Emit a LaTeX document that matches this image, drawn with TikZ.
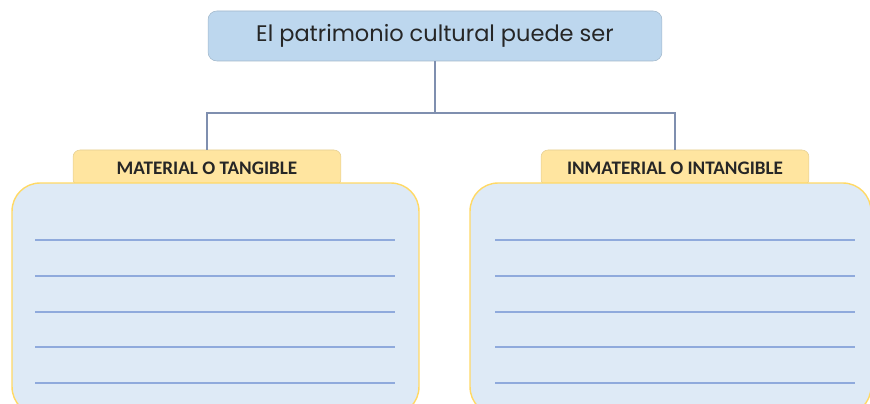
\documentclass[tikz,border=0pt]{standalone}
\usepackage{fontspec}
\setmainfont{Carlito}
\newfontfamily\titlefont{Poppins}
\usetikzlibrary{positioning}
\definecolor{titlebg}{HTML}{BDD7EE}
\definecolor{tabbg}{HTML}{FFE5A0}
\definecolor{boxbg}{HTML}{DEEAF6}
\definecolor{boxedge}{HTML}{FFD966}
\definecolor{rulec}{HTML}{8FAADC}
\definecolor{linkc}{HTML}{7F8FAF}
\definecolor{inkc}{HTML}{262626}
\tikzset{
  titlebox/.style={fill=titlebg, draw=titlebg!85!black, line width=0.3pt, rounded corners=5pt,
                   minimum width=9.08cm, minimum height=1cm, inner sep=0pt,
                   text=inkc, font=\titlefont\fontsize{12.8}{15}\selectfont},
  tabbox/.style={fill=tabbg, draw=tabbg!90!black, line width=0.3pt, rounded corners=4pt,
                 minimum width=5.36cm, minimum height=0.72cm, inner sep=0pt,
                 text=inkc, font=\bfseries\fontsize{10.9}{12}\selectfont},
  notebox/.style={fill=boxbg, draw=boxedge, line width=0.8pt, rounded corners=0.56cm,
                  minimum height=4.64cm, inner sep=0pt},
  link/.style={draw=linkc, line width=0.8pt},
  rule/.style={draw=rulec, line width=1pt}}
\begin{document}
\begin{tikzpicture}[x=0.02cm, y=-0.02cm]
  \useasboundingbox (0,0) rectangle (870,404);
  \clip (0,0) rectangle (870,404);
  \node[titlebox] (title) at (435,36) {El patrimonio cultural puede ser};
  % the two tabs sit under the boxes
  \node[tabbox] (matL) at (207,168) {MATERIAL O TANGIBLE};
  \node[tabbox] (matR) at (675,168) {INMATERIAL O INTANGIBLE};
  \node[notebox, minimum width=8.14cm] (boxL) at (215.5,299) {};
  \node[notebox, minimum width=8.02cm] (boxR) at (670.5,299) {};
  \coordinate (fork) at (435,113);
  \draw[link] (title.south) -- (fork);
  \draw[link] (fork) -| (matL.north);
  \draw[link] (fork) -| (matR.north);
  % writing lines
  \foreach \y in {240,276,312,347,383} {
    \draw[rule] (35,\y) -- (395,\y);
    \draw[rule] (495,\y) -- (855,\y);
  }
\end{tikzpicture}
\end{document}
